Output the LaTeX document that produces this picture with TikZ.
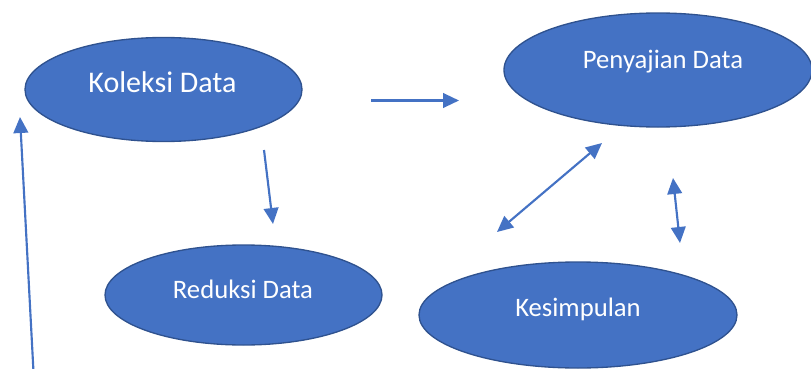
\documentclass[tikz,border=0pt]{standalone}
\usepackage{fontspec}
\setmainfont{Carlito}
\usetikzlibrary{shapes.geometric}
\usetikzlibrary{arrows.meta}
\definecolor{officeblue}{HTML}{4472C4}
\definecolor{officeedge}{HTML}{2F528F}

\begin{document}
\begin{tikzpicture}[x=0.75pt, y=-0.75pt,
    blob/.style={draw=officeedge, line width=1pt, fill=officeblue, ellipse, inner sep=0pt},
    lbl/.style={text=white, inner sep=0pt, text height=12.8pt, text depth=0pt, font=\fontsize{20}{24}\selectfont},
    flow/.style={draw=officeblue, line width=1.6pt, -{Triangle[length=12pt, width=11pt]}},
    flowboth/.style={draw=officeblue, line width=1.6pt, {Triangle[length=12pt, width=11pt]}-{Triangle[length=12pt, width=11pt]}}]

    \useasboundingbox (0,0) rectangle (811,368);

    % Nodes
    \node at (163.5,89.5) (koleksi) [blob, minimum width=207.75pt, minimum height=78pt] {};
    \node at (658,70) (penyajian) [blob, minimum width=231pt, minimum height=85.5pt] {};
    \node at (243.5,295) (reduksi) [blob, minimum width=207.75pt, minimum height=75pt] {};
    \node at (578,315) (kesimpulan) [blob, minimum width=238.5pt, minimum height=79.5pt] {};

    % Labels
    \node at (162.5,83) (koleksi_text) [lbl, text height=14.4pt, font=\fontsize{22.5}{27}\selectfont] {Koleksi Data};
    \node at (663,60) (penyajian_text) [lbl] {Penyajian Data};
    \node at (243,290) (reduksi_text) [lbl] {Reduksi Data};
    \node at (578,308) (kesimpulan_text) [lbl] {Kesimpulan};

    % Arrow ends
    \coordinate (a1) at (371,100.5);
    \coordinate (a2) at (459,100.5);
    \coordinate (b1) at (264,150);
    \coordinate (b2) at (273,224);
    \coordinate (c1) at (497,232);
    \coordinate (c2) at (602,143);
    \coordinate (d1) at (673,178);
    \coordinate (d2) at (680,243);
    \coordinate (e1) at (33.5,372);
    \coordinate (e2) at (20,117);

    % Arrows
    \draw[flow] (a1) -- (a2);
    \draw[flow] (b1) -- (b2);
    \draw[flowboth] (c1) -- (c2);
    \draw[flowboth] (d1) -- (d2);
    \draw[flow] (e1) -- (e2);

\end{tikzpicture}
\end{document}
